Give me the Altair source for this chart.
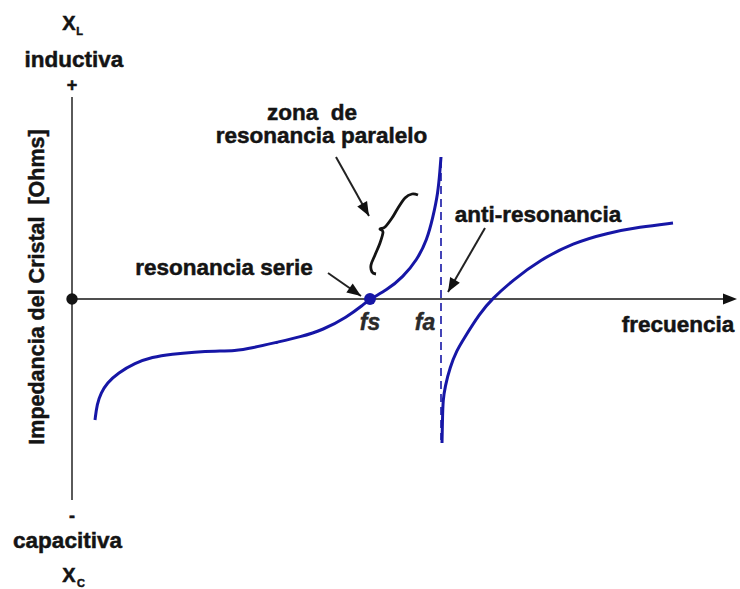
import math

import altair as alt
import pandas as pd

# Reactance of a quartz crystal versus frequency (arbitrary units).
# Branch below the anti-resonance frequency (capacitive -> series resonance -> inductive)
lower_freq = [23, 25, 29, 35, 46, 63, 80, 100, 123, 143, 163, 180, 206, 228, 251, 275, 291,
              298, 315, 331, 345, 355, 361, 366, 368, 369]
lower_react = [-121, -105, -94, -84, -74, -64, -58, -55, -53, -52, -52, -49, -43, -38, -31,
               -18, -6, 0, 9, 22, 39, 59, 82, 106, 129, 142]
# Branch above the anti-resonance frequency
upper_freq = [370, 370.5, 371, 373, 378, 385, 391, 408, 420, 441, 468, 501, 535, 568, 601]
upper_react = [-144, -120, -101, -88, -68, -51, -41, -14, 0, 19, 39, 56, 66, 72, 76]

fs = 298  # series resonance
fa = 369  # anti-resonance (parallel)

# Curly brace marking the parallel-resonance zone
brace_x = [346, 340, 333, 326, 320, 313, 308, 311, 308, 303, 299, 300, 304]
brace_y = [104, 105, 101, 91, 81, 72, 70, 67, 56, 44, 34, 27, 25]

# Pointer arrows: start -> tip
arrow_x0 = [256, 264, 413]
arrow_y0 = [26, 142, 71]
arrow_x1 = [289, 297, 376]
arrow_y1 = [3, 83, 7]

# Annotations
label_text = ["resonancia serie", "zona\u00a0\u00a0de", "resonancia paralelo",
              "anti-resonancia", "frecuencia", "inductiva", "capacitiva"]
label_x = [152, 240, 249.5, 466, 606, 2, -4.5]
label_y = [24, 179, 156, 77, -32.5, 232, -249]

freq_text = ["fs", "fa"]
freq_label_y = -31
freq_label_dx = [0, -16]

sign_text = ["+", "-"]
sign_y = [208, -223]

react_text = ["X", "X"]
react_x = [-3, -3]
react_y = [269, -283]
react_sub = ["L", "C"]
react_sub_x = [7.5, 9]
react_sub_y = [264, -288]

y_title = "Impedancia del Cristal\u00a0\u00a0[Ohms]"

# Axis extents
y_axis_top, y_axis_bottom = 202, -201
x_axis_end = 665

BLUE = "#1616a6"
INK = "#141414"
FONT = "Liberation Sans"

xs = alt.Scale(domain=[-72, 668], nice=False, zero=False)
ys = alt.Scale(domain=[-290, 299], nice=False, zero=False)


def X(field):
    return alt.X(f"{field}:Q", scale=xs, axis=None)


def Y(field):
    return alt.Y(f"{field}:Q", scale=ys, axis=None)


curve = pd.concat([
    pd.DataFrame({"f": lower_freq, "r": lower_react, "branch": "low",
                  "i": range(len(lower_freq))}),
    pd.DataFrame({"f": upper_freq, "r": upper_react, "branch": "high",
                  "i": range(len(upper_freq))}),
])
brace = pd.DataFrame({"x": brace_x, "y": brace_y, "i": range(len(brace_x))})

# Arrowhead rotation: clockwise degrees from "pointing up" on screen
arrows = pd.DataFrame({"x0": arrow_x0, "y0": arrow_y0, "x1": arrow_x1, "y1": arrow_y1})
arrows["ang"] = [math.degrees(math.atan2(x1 - x0, y1 - y0))
                 for x0, y0, x1, y1 in zip(arrows.x0, arrows.y0, arrows.x1, arrows.y1)]
heads = pd.concat([
    arrows[["x1", "y1", "ang"]],
    pd.DataFrame({"x1": [x_axis_end], "y1": [0], "ang": [90.0]}),
])

axes_df = pd.DataFrame({"x": [0], "y": [0], "yt": [y_axis_top], "yb": [y_axis_bottom],
                        "xe": [x_axis_end - 8]})
fa_df = pd.DataFrame({"x": [fa], "yt": [139], "yb": [-141]})
dots = pd.DataFrame({"x": [0], "y": [0]})
fs_dot = pd.DataFrame({"x": [fs], "y": [0]})

labels = pd.DataFrame({"t": label_text, "x": label_x, "y": label_y})
freq_labels = pd.DataFrame({"t": freq_text,
                            "x": [fs + freq_label_dx[0], fa + freq_label_dx[1]],
                            "y": [freq_label_y, freq_label_y]})
signs = pd.DataFrame({"t": sign_text, "x": [0, 0], "y": sign_y})
react = pd.DataFrame({"t": react_text, "x": react_x, "y": react_y})
react_s = pd.DataFrame({"t": react_sub, "x": react_sub_x, "y": react_sub_y})
title_df = pd.DataFrame({"t": [y_title], "x": [-34], "y": [12]})

# Heavier lettering: fill plus a thin outline in the same ink
heavy = dict(font=FONT, fontWeight="bold", color=INK, stroke=INK, strokeWidth=0.5,
             baseline="alphabetic", align="center")

v_axis = alt.Chart(axes_df).mark_rule(color="#5a5a5a", strokeWidth=2).encode(
    x=X("x"), y=Y("yt"), y2="yb")
h_axis = alt.Chart(axes_df).mark_rule(color=INK, strokeWidth=1.6).encode(
    x=X("x"), x2="xe", y=Y("y"))
fa_line = alt.Chart(fa_df).mark_rule(color=BLUE, strokeWidth=1.6, strokeDash=[8, 5]).encode(
    x=X("x"), y=Y("yt"), y2="yb")
lines = alt.Chart(curve).mark_line(color=BLUE, strokeWidth=3, interpolate="basis").encode(
    x=X("f"), y=Y("r"), detail="branch:N", order="i:Q")
brace_line = alt.Chart(brace).mark_line(color=INK, strokeWidth=2.8, interpolate="cardinal").encode(
    x=X("x"), y=Y("y"), order="i:Q")
shafts = alt.Chart(arrows).mark_rule(color="#222222", strokeWidth=2).encode(
    x=X("x0"), y=Y("y0"), x2="x1", y2="y1")
arrow_heads = alt.Chart(heads).mark_point(
    shape="M0,0L0.8,2L-0.8,2Z", filled=True, size=196, color="#111111", opacity=1,
    strokeWidth=0).encode(x=X("x1"), y=Y("y1"), angle=alt.Angle("ang:Q", scale=None))
origin = alt.Chart(dots).mark_circle(color=INK, size=130, opacity=1).encode(x=X("x"), y=Y("y"))
fs_mark = alt.Chart(fs_dot).mark_circle(color=BLUE, size=140, opacity=1).encode(
    x=X("x"), y=Y("y"))

text_labels = alt.Chart(labels).mark_text(fontSize=22.5, **heavy).encode(
    x=X("x"), y=Y("y"), text="t:N")
freq_marks = alt.Chart(freq_labels).mark_text(
    font=FONT, fontWeight="bold", fontStyle="italic", fontSize=23, color="#2a2a2a",
    stroke="#2a2a2a", strokeWidth=0.4, align="center", baseline="alphabetic").encode(
    x=X("x"), y=Y("y"), text="t:N")
sign_marks = alt.Chart(signs).mark_text(fontSize=18, **heavy).encode(
    x=X("x"), y=Y("y"), text="t:N")
react_marks = alt.Chart(react).mark_text(fontSize=20, **heavy).encode(
    x=X("x"), y=Y("y"), text="t:N")
react_sub_marks = alt.Chart(react_s).mark_text(fontSize=11, **heavy).encode(
    x=X("x"), y=Y("y"), text="t:N")
title_mark = alt.Chart(title_df).mark_text(
    font=FONT, fontWeight="bold", fontSize=21.5, color=INK, stroke=INK, strokeWidth=0.5,
    align="center", baseline="middle", angle=270).encode(x=X("x"), y=Y("y"), text="t:N")

chart = alt.layer(
    v_axis, h_axis, fa_line, lines, brace_line, shafts, arrow_heads, origin, fs_mark,
    text_labels, freq_marks, sign_marks, react_marks, react_sub_marks, title_mark,
).properties(
    width=740, height=589, padding=0, autosize=alt.AutoSizeParams(type="none"),
    background="white",
).configure_view(stroke=None)

chart.save("out.html", embed_options={"renderer": "svg", "actions": False})
